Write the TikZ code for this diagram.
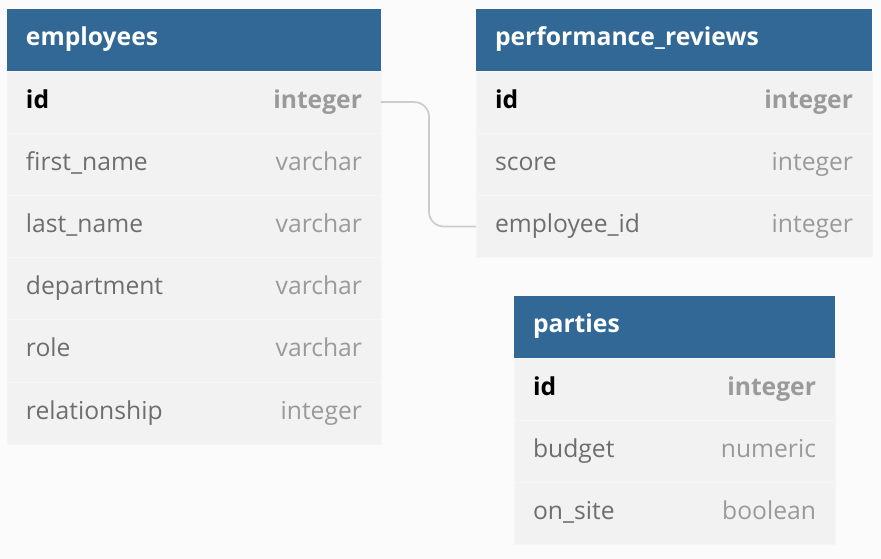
\documentclass[tikz,border=0pt]{standalone}
\usepackage{fontspec}
\setmainfont{Open Sans}
\usetikzlibrary{positioning}

\definecolor{hdblue}{HTML}{316896}
\definecolor{rowgray}{HTML}{F2F2F2}
\definecolor{sepgray}{HTML}{F6F6F6}
\definecolor{bggray}{HTML}{FBFBFB}
\definecolor{namegray}{HTML}{6E6E6E}
\definecolor{typegray}{HTML}{9A9A9A}
\definecolor{linkgray}{HTML}{CCCCCC}

\newcommand{\fld}[2]{\textcolor{namegray}{#1}\hfill\textcolor{typegray}{#2}}
\newcommand{\pkfld}[2]{\textbf{#1}\hfill\textcolor{typegray}{\textbf{#2}}}

\tikzset{
  tblhead/.style={anchor=north west, fill=hdblue, text=white,
    font=\fontsize{18.5}{22}\selectfont\bfseries, inner xsep=14.25pt,
    text width=#1, minimum height=46.5pt, text height=13pt, text depth=5pt,
    outer sep=0pt},
  field/.style={fill=rowgray, draw=sepgray, line width=0.5pt,
    font=\fontsize{18.5}{22}\selectfont, inner xsep=14.25pt,
    text width=#1, minimum height=46.65pt, text height=13.5pt, text depth=4.5pt,
    outer sep=0pt},
  link/.style={draw=linkgray, line width=1.3pt}
}

\begin{document}
\begin{tikzpicture}[x=0.75pt,y=-0.75pt]
    \fill[bggray] (0,0) rectangle (881,559);
    \useasboundingbox (0,0) rectangle (881,559);

    \node[tblhead=252pt] (emp) at (7,9) {employees};
    \node[field=252pt, below=0pt of emp] (emp-id) {\pkfld{id}{integer}};
    \node[field=252pt, below=0pt of emp-id] (emp-first) {\fld{first\_name}{varchar}};
    \node[field=252pt, below=0pt of emp-first] (emp-last) {\fld{last\_name}{varchar}};
    \node[field=252pt, below=0pt of emp-last] (emp-dept) {\fld{department}{varchar}};
    \node[field=252pt, below=0pt of emp-dept] (emp-role) {\fld{role}{varchar}};
    \node[field=252pt, below=0pt of emp-role] (emp-rel) {\fld{relationship}{integer}};

    \node[tblhead=268.5pt] (rev) at (476,9) {performance\_reviews};
    \node[field=268.5pt, below=0pt of rev] (rev-id) {\pkfld{id}{integer}};
    \node[field=268.5pt, below=0pt of rev-id] (rev-score) {\fld{score}{integer}};
    \node[field=268.5pt, below=0pt of rev-score] (rev-emp) {\fld{employee\_id}{integer}};

    \node[tblhead=212.25pt] (par) at (514,296) {parties};
    \node[field=212.25pt, below=0pt of par] (par-id) {\pkfld{id}{integer}};
    \node[field=212.25pt, below=0pt of par-id] (par-budget) {\fld{budget}{numeric}};
    \node[field=212.25pt, below=0pt of par-budget] (par-site) {\fld{on\_site}{boolean}};

    \draw[link, rounded corners=11pt] (emp-id.east) -- ++(48,0) |- (rev-emp.west);
\end{tikzpicture}
\end{document}
